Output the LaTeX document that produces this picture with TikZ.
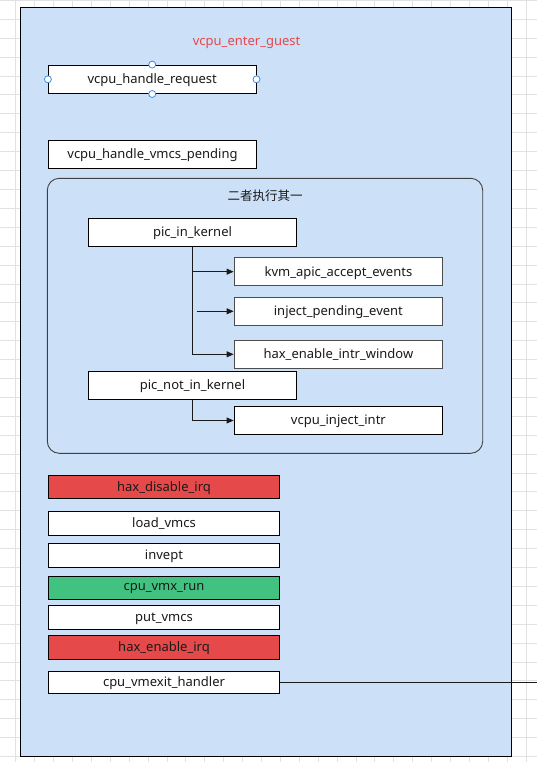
\documentclass[tikz,border=0pt]{standalone}
\usepackage{fontspec}
\setmainfont{Noto Sans}
\newfontfamily\cjkfont{Noto Sans CJK SC}
\usetikzlibrary{arrows.meta}
\definecolor{bgblue}{RGB}{204,225,247}
\definecolor{redfill}{RGB}{230,73,73}
\definecolor{greenfill}{RGB}{66,194,129}
\definecolor{titlered}{RGB}{229,72,77}
\definecolor{gridc}{RGB}{226,226,226}
\definecolor{handleblue}{RGB}{60,140,230}
\definecolor{txt}{RGB}{26,26,26}
\tikzset{
  box/.style={draw=black, line width=0.9pt, fill=white, rectangle, inner sep=0pt,
    text=txt, font=\fontsize{13}{15}\selectfont, text depth=1pt},
  wbox/.style={box, minimum width=208.4pt, minimum height=28pt},
  sbox/.style={box, minimum width=231.5pt, minimum height=23pt},
  arr/.style={draw=txt, line width=0.8pt, -{Triangle[length=7pt,width=6pt]}},
  handle/.style={circle, draw=handleblue, fill=white, line width=0.8pt, minimum size=7pt, inner sep=0pt},
}
\begin{document}
\begin{tikzpicture}[x=1pt,y=-1pt]
\useasboundingbox (0,0) rectangle (537,762);
\fill[white] (0,0) rectangle (537,762);
% grid
\foreach \i in {0,...,29} {\draw[gridc, line width=0.8pt] ({-3.2+\i*18.9},0) -- ({-3.2+\i*18.9},762);}
\foreach \i in {0,...,40} {\draw[gridc, line width=0.8pt] (0,{0.4+\i*18.9}) -- (537,{0.4+\i*18.9});}
% main container
\node[draw=black, line width=0.9pt, fill=bgblue, rectangle, inner sep=0pt,
  minimum width=490.8pt, minimum height=748.5pt] (main) at (265.9,382) {};
\node[text=titlered, font=\fontsize{13}{15}\selectfont] (title) at (246.6,42.5) {vcpu\_enter\_guest};
% top boxes
\node[wbox, minimum width=207.7pt, minimum height=28.5pt] (vhr) at (152.2,79.3) {vcpu\_handle\_request};
\node[handle] (h1) at (vhr.west) {};
\node[handle] (h2) at (vhr.east) {};
\node[handle] (h3) at (vhr.north) {};
\node[handle] (h4) at (vhr.south) {};
\node[wbox, minimum width=207.6pt] (vhvp) at (152.5,154.3) {vcpu\_handle\_vmcs\_pending};
% group
\node[draw=black!75, line width=0.9pt, rounded corners=12pt, rectangle, inner sep=0pt,
  minimum width=435.4pt, minimum height=275pt] (grp) at (265,315.8) {};
\node[text=txt, font=\cjkfont\fontsize{12.5}{14}\selectfont] (grptitle) at (265,195.7) {二者执行其一};
\node[wbox] (pik) at (192.5,232.3) {pic\_in\_kernel};
\node[wbox, minimum width=208.7pt, draw=black!70] (kvm) at (338.4,271.7) {kvm\_apic\_accept\_events};
\node[wbox, minimum width=208.7pt, draw=black!70] (ipe) at (338.4,311.3) {inject\_pending\_event};
\node[wbox, minimum width=208.7pt, draw=black!70] (hiw) at (338.4,354.3) {hax\_enable\_intr\_window};
\node[wbox] (pnik) at (192.5,385.3) {pic\_not\_in\_kernel};
\node[wbox, minimum width=208.7pt] (vii) at (338.4,420.5) {vcpu\_inject\_intr};
\coordinate (ipestart) at (196.7,311.3);
\draw[arr] (pik.south) |- (kvm.west);
\draw[arr] (pik.south) |- (hiw.west);
\draw[arr] (ipestart) -- (ipe.west);
\draw[arr] (pnik.south) |- (vii.west);
% bottom sequence
\node[sbox, fill=redfill, minimum height=22.6pt] (hdi) at (164,487.1) {hax\_disable\_irq};
\node[sbox, minimum height=23.6pt] (lv) at (164,523.5) {load\_vmcs};
\node[sbox, minimum height=23.6pt] (inv) at (164,555.4) {invept};
\node[sbox, fill=greenfill, minimum height=22.6pt] (cvr) at (164,587.7) {cpu\_vmx\_run};
\node[sbox, minimum height=23.5pt] (pv) at (164,617.3) {put\_vmcs};
\node[sbox, fill=redfill, minimum height=23.7pt] (hei) at (164,647.2) {hax\_enable\_irq};
\node[sbox, minimum height=22.6pt] (cvh) at (164,682.5) {cpu\_vmexit\_handler};
\coordinate (exitend) at (537,682.5);
\draw[draw=txt, line width=0.8pt] (cvh.east) -- (exitend);
\end{tikzpicture}
\end{document}
